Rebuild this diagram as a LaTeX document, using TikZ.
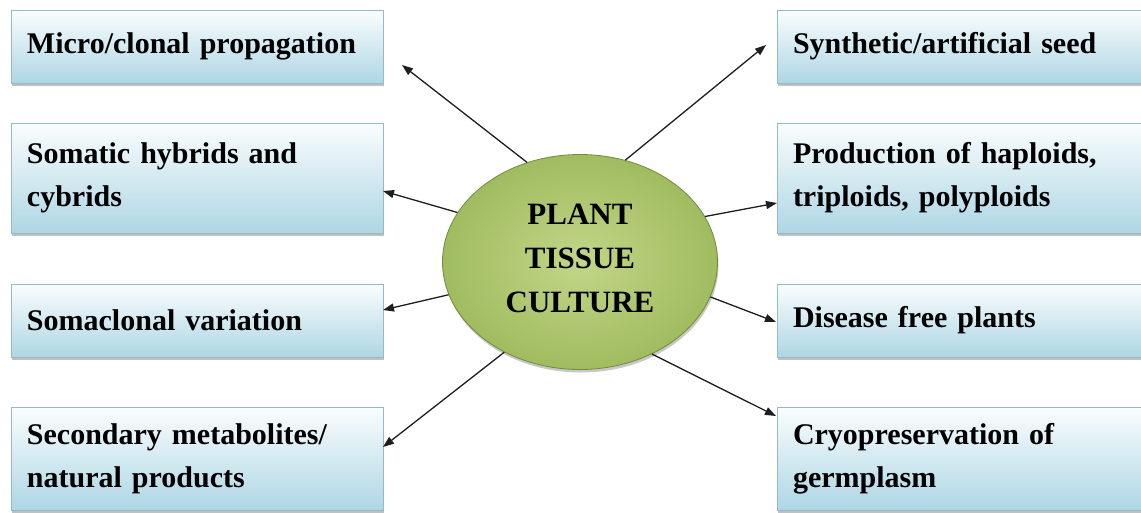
\documentclass[tikz,border=0pt]{standalone}
\usepackage{fontspec}
\setmainfont{Liberation Serif}
\usetikzlibrary{shapes.geometric,shadows,arrows.meta}
\definecolor{boxtop}{RGB}{250,253,254}
\definecolor{boxbot}{RGB}{174,214,228}
\definecolor{boxedge}{RGB}{150,185,198}
\definecolor{greenin}{RGB}{194,214,136}
\definecolor{greenout}{RGB}{160,188,95}
\definecolor{greenedge}{RGB}{112,140,62}
\definecolor{arrowc}{RGB}{30,30,30}
\newcommand\mytightsp{\spaceskip=6pt plus 1pt\relax}
\begin{document}
\begin{tikzpicture}[x=1pt,y=-1pt,
  appbox/.style={draw=boxedge, line width=0.8pt, top color=boxtop, bottom color=boxbot,
    minimum width=372pt, text width=340pt, inner xsep=16pt, inner ysep=0pt, align=left,
    font=\bfseries\fontsize{30}{43}\selectfont\mytightsp,
    drop shadow={shadow xshift=1pt, shadow yshift=-3pt, opacity=0.35, fill=black!70}},
  hub/.style={ellipse, draw=greenedge, line width=0.8pt, inner color=greenin, outer color=greenout,
    minimum width=275pt, minimum height=215pt, inner sep=0pt, align=center,
    drop shadow={shadow xshift=1pt, shadow yshift=-3pt, opacity=0.3, fill=black!70}},
  hubtext/.style={align=center, inner sep=0pt, font=\bfseries\fontsize{31}{44}\selectfont},
  link/.style={draw=arrowc, line width=1.3pt, -{Triangle[length=11pt,width=8pt]}}]
\useasboundingbox (0,0) rectangle (1141,512);
\fill[white] (0,0) rectangle (1141,512);
% left boxes
\node[appbox, minimum height=73pt] (l1) at (197,46.5) {Micro/clonal propagation};
\node[appbox, minimum height=110pt] (l2) at (197,178) {Somatic hybrids and\\cybrids};
\node[appbox, minimum height=73pt] (l3) at (197,320.5) {Somaclonal variation};
\node[appbox, minimum height=103pt] (l4) at (197,458.5) {Secondary metabolites/\\natural products};
% right boxes
\node[appbox, minimum height=73pt] (r1) at (963,46.5) {Synthetic/artificial seed};
\node[appbox, minimum height=110pt] (r2) at (963,178) {Production of haploids,\\triploids, polyploids};
\node[appbox, minimum height=73pt] (r3) at (963,320.5) {Disease free plants};
\node[appbox, minimum height=103pt] (r4) at (963,458.5) {Cryopreservation of\\germplasm};
% hub
\node[hub] (hub) at (580,262) {};
\node[hubtext] (hubt) at (580,258) {PLANT\\TISSUE\\CULTURE};
% arrow tips
\coordinate (t1) at (402,65);
\coordinate (t2) at (383,191);
\coordinate (t3) at (383,310);
\coordinate (t4) at (383,447);
\coordinate (t5) at (766,45);
\coordinate (t6) at (777,203);
\coordinate (t7) at (776,322);
\coordinate (t8) at (776,416);
\draw[link] (hub.118) -- (t1);
\draw[link] (hub.158) -- (t2);
\draw[link] (hub.194) -- (t3);
\draw[link] (hub.230) -- (t4);
\draw[link] (hub.66) -- (t5);
\draw[link] (hub.20) -- (t6);
\draw[link] (hub.345) -- (t7);
\draw[link] (hub.308) -- (t8);
\end{tikzpicture}
\end{document}
